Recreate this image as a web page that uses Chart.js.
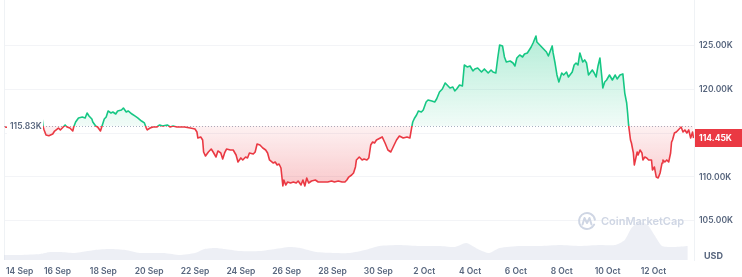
<!DOCTYPE html>
<html><head><meta charset="utf-8">
<script src="https://cdn.jsdelivr.net/npm/chart.js@4.4.1/dist/chart.umd.min.js"></script>
<style>html,body{margin:0;padding:0;background:#fff;overflow:hidden}canvas{display:block}</style>
</head><body>
<canvas id="c" width="742" height="277"></canvas>
<script>
// hours since 14 Sep 00:00
const hours = [-7,0,9,17,26,32,33,34,36,39,43,45,49,51,54,56,58,61,64,65,67,70,74,77,79,81,84,85,88,90,93,95,97,99,101,104,106,109,111,115,117,120,122,126,129,132,136,139,141,142,145,148,152,155,158,163,166,169,173,176,181,187,192,194,195,198,200,201,203,206,209,211,214,216,219,221,223,225,229,232,235,237,240,242,245,247,249,253,255,257,260,263,266,268,270,274,276,278,280,282,283,284,285,287,289,292,295,298,300,303,305,307,309,311,314,318,321,325,328,331,335,338,342,346,349,351,353,356,358,360,361,364,367,369,372,374,376,378,380,382,384,388,391,394,397,400,403,406,410,414,417,419,420,422,424,426,429,431,434,436,440,443,445,448,451,454,456,459,462,464,466,469,472,474,477,480,483,485,488,492,495,499,502,504,507,509,511,514,516,518,522,525,527,529,532,535,537,540,544,546,549,550,553,556,558,560,562,566,567,569,571,573,576,578,581,583,587,589,591,593,595,598,600,602,604,608,610,612,614,616,618,619,621,623,626,629,632,634,637,640,642,644,645,646,648,649,650,651,652,655,656,658,660,661,663,665,667,670,671,673,675,677,679,681,682,684,686,688,690,691,692,694,696,698,700,701,703,705,707,709,711,713,714];
// price in thousands USD
const prices = [115.71,115.59,115.71,115.48,115.82,116.62,115.71,115.37,114.79,114.71,114.91,115.25,115.59,115.37,115.71,115.94,115.71,115.59,115.25,115.71,116.28,116.74,116.85,116.74,117.31,116.97,116.62,116.28,115.82,115.71,115.25,115.94,116.62,116.85,117.54,117.31,117.42,117.19,117.54,117.65,117.88,117.42,117.54,117.19,116.97,116.74,116.39,116.17,115.59,115.37,115.59,115.71,115.71,115.94,115.82,115.94,115.71,115.82,115.71,115.71,115.71,115.59,115.48,115.14,114.45,114.57,114.22,112.85,112.39,112.85,113.19,112.85,112.28,112.97,112.74,112.05,112.74,113.19,113.08,113.08,112.51,111.71,112.17,111.94,112.28,112.17,112.74,112.62,112.85,113.77,113.65,113.31,113.08,112.74,111.94,111.59,111.71,111.37,111.48,111.02,109.99,108.97,109.65,109.08,109.42,109.31,109.42,109.31,109.54,109.08,109.65,108.97,109.88,109.31,109.54,109.65,109.42,109.42,109.42,109.42,109.54,109.42,109.54,109.42,109.42,109.65,109.99,110.22,110.45,111.14,111.94,112.28,111.94,112.05,111.94,112.17,113.65,113.99,113.88,114.22,114.34,114.57,113.88,113.08,112.85,113.54,114.22,114.68,114.45,114.57,114.45,115.71,116.28,116.74,117.08,117.54,117.42,117.65,118.57,118.79,118.68,118.57,118.91,119.71,120.05,120.74,120.51,120.17,120.28,119.82,120.05,120.51,120.39,122.79,122.57,122.68,122.11,122.34,122.45,121.99,122.34,121.88,122.22,121.99,121.88,123.59,125.08,124.97,123.71,123.14,123.25,123.02,122.68,123.59,123.94,123.71,124.05,124.17,124.85,125.31,126.11,125.42,125.08,124.74,124.51,124.28,123.82,124.97,124.17,123.02,121.65,120.85,121.88,121.65,121.99,121.42,121.99,122.79,123.02,122.79,124.17,123.14,123.37,123.02,121.65,122.22,121.88,121.42,122.68,123.59,121.42,120.17,120.85,121.08,121.65,121.08,121.65,121.19,121.65,121.77,119.59,118.45,117.31,115.94,114.22,113.88,113.31,112.74,111.37,112.85,112.51,113.08,112.74,111.94,112.28,112.17,111.94,111.94,110.79,111.14,109.99,109.88,110.45,111.59,111.94,111.71,111.94,111.71,112.74,113.99,114.22,115.02,115.14,115.37,115.59,115.71,115.14,115.37,115.02,115.37,114.45,115.14,114.45];
// volume (billions USD)
const volHours = [-8,9,30,40,51,66,87,103,119,134,160,176,192,202,213,223,239,260,276,291,302,319,338,354,370,385,406,427,448,464,476,490,500,511,532,553,574,595,616,632,642,649,657,666,673,681,694,708];
const volumes = [10,10,12,16,16,14,20,22,20,14,14,10,14,22,24,22,18,18,22,26,24,16,14,14,20,28,30,28,28,26,34,20,14,24,28,28,30,28,30,30,40,64,76,70,50,28,26,28];
const tickHours = [0,48,96,144,192,240,288,336,384,432,480,528,576,624,672];
const tickLabels = ['14 Sep','16 Sep','18 Sep','20 Sep','22 Sep','24 Sep','26 Sep','28 Sep','30 Sep','2 Oct','4 Oct','6 Oct','8 Oct','10 Oct','12 Oct'];
const yTicks = [105,110,115,120,125];
const basePrice = 115.83;
const lastPrice = 114.45;

const GREEN = '#16c784', RED = '#ea3943', GREY = '#58667e';
const FONT = 'Inter, "Noto Sans", sans-serif';

let gradCache = null;
function grads(chart) {
  const area = chart.chartArea, y = chart.scales.y;
  if (!area || !y) return null;
  const key = area.top + ',' + area.bottom;
  if (gradCache && gradCache.key === key) return gradCache;
  const ctx = chart.ctx;
  const b = y.getPixelForValue(basePrice);
  const hi = y.getPixelForValue(Math.max(...prices));
  const lo = y.getPixelForValue(Math.min(...prices));
  const above = ctx.createLinearGradient(0, hi, 0, b);
  above.addColorStop(0, 'rgba(22,199,132,0.32)');
  above.addColorStop(1, 'rgba(22,199,132,0.06)');
  const below = ctx.createLinearGradient(0, b, 0, lo);
  below.addColorStop(0, 'rgba(234,57,67,0.07)');
  below.addColorStop(1, 'rgba(234,57,67,0.27)');
  const line = ctx.createLinearGradient(0, area.top, 0, area.bottom);
  const t = Math.min(1, Math.max(0, (b - area.top) / (area.bottom - area.top)));
  line.addColorStop(0, GREEN); line.addColorStop(t, GREEN);
  line.addColorStop(t, RED); line.addColorStop(1, RED);
  gradCache = {key, above, below, line};
  return gradCache;
}

const decor = {
  id: 'decor',
  beforeDatasetsDraw(chart) {
    const {ctx, chartArea: a, scales: {y}} = chart;
    const by = Math.round(y.getPixelForValue(basePrice)) + 0.5;
    ctx.save();
    ctx.strokeStyle = '#eff2f5'; ctx.lineWidth = 1;
    ctx.beginPath(); ctx.moveTo(a.left + 0.5, a.top); ctx.lineTo(a.left + 0.5, a.bottom); ctx.stroke();
    ctx.strokeStyle = '#a7b1c2'; ctx.setLineDash([1, 2]);
    ctx.beginPath(); ctx.moveTo(a.left, by); ctx.lineTo(a.right, by); ctx.stroke();
    ctx.restore();
  },
  afterDatasetsDraw(chart) {
    const {ctx, chartArea: a, scales: {x, y}} = chart;
    ctx.save();
    // watermark
    ctx.strokeStyle = '#cfd6e4'; ctx.lineWidth = 2; ctx.lineCap = 'round'; ctx.lineJoin = 'round';
    ctx.beginPath(); ctx.arc(587, 221, 8, 0.15 * Math.PI, 1.95 * Math.PI); ctx.stroke();
    ctx.beginPath(); ctx.moveTo(582.5, 224.5); ctx.lineTo(584.5, 218); ctx.lineTo(587, 223); ctx.lineTo(589.5, 218); ctx.lineTo(591.5, 224.5); ctx.stroke();
    ctx.fillStyle = '#cfd6e4'; ctx.font = '600 11px ' + FONT; ctx.textBaseline = 'middle'; ctx.textAlign = 'left';
    ctx.fillText('CoinMarketCap', 601, 222);
    // left baseline label
    const by = y.getPixelForValue(basePrice);
    ctx.fillStyle = '#ffffff'; ctx.fillRect(a.left + 3, by - 8, 36, 16);
    ctx.fillStyle = GREY; ctx.font = '600 8.5px ' + FONT;
    ctx.fillText(basePrice.toFixed(2) + 'K', a.left + 6, by + 0.5);
    ctx.restore();
  },
  afterDraw(chart) {
    const {ctx, chartArea: a, scales: {x, y}} = chart;
    ctx.save();
    // current price box
    const py = y.getPixelForValue(lastPrice);
    ctx.fillStyle = RED; ctx.fillRect(a.right + 1, Math.round(py) - 9, 742 - a.right, 18);
    ctx.fillStyle = '#ffffff'; ctx.font = '700 8.5px ' + FONT; ctx.textBaseline = 'middle'; ctx.textAlign = 'left';
    ctx.fillText(lastPrice.toFixed(2) + 'K', a.right + 5, Math.round(py) + 0.5);
    // USD
    ctx.fillStyle = GREY; ctx.font = '700 9px ' + FONT;
    ctx.fillText('USD', a.right + 10, 256);
    // x labels
    ctx.font = '600 8.5px ' + FONT; ctx.fillStyle = GREY;
    tickHours.forEach((h, i) => {
      const px = x.getPixelForValue(h);
      const w = ctx.measureText(tickLabels[i]).width;
      let left = px - w / 2;
      if (left < 6) left = 6;
      ctx.fillText(tickLabels[i], left, 271);
    });
    ctx.restore();
  }
};

new Chart(document.getElementById('c'), {
  type: 'line',
  data: {
    datasets: [{
      data: hours.map((h, i) => ({x: h, y: prices[i]})),
      yAxisID: 'y',
      order: 0,
      borderWidth: 1.6,
      borderJoinStyle: 'round',
      pointRadius: 0,
      tension: 0,
      borderColor: (c) => { const g = grads(c.chart); return g ? g.line : GREEN; },
      fill: {
        target: {value: basePrice},
        above: (c) => { const g = grads(c.chart); return g ? g.above : 'rgba(22,199,132,0.15)'; },
        below: (c) => { const g = grads(c.chart); return g ? g.below : 'rgba(234,57,67,0.15)'; }
      }
    }, {
      data: volHours.map((h, i) => ({x: h, y: volumes[i]})),
      yAxisID: 'y2',
      order: 1,
      borderWidth: 0,
      pointRadius: 0,
      tension: 0.2,
      backgroundColor: 'rgba(207,214,228,0.38)',
      fill: 'origin'
    }]
  },
  options: {
    responsive: false,
    animation: false,
    devicePixelRatio: 1,
    layout: {padding: {left: 4, right: 0, top: 0, bottom: 17}},
    plugins: {legend: {display: false}, tooltip: {enabled: false}},
    scales: {
      x: {type: 'linear', display: false, min: -8, max: 714.5},
      y: {
        position: 'right', min: 100.51, max: 130.22,
        afterBuildTicks: (s) => { s.ticks = yTicks.map(v => ({value: v})); },
        afterFit: (s) => { s.width = 48; s.paddingTop = 0; s.paddingBottom = 0; },
        grid: {color: '#f3f4f7', drawTicks: false},
        border: {display: true, color: '#eff2f5'},
        ticks: {
          padding: 5, crossAlign: 'near', color: GREY,
          font: {family: FONT, size: 8.5, weight: '600'},
          callback: (v) => Number(v).toFixed(2) + 'K'
        }
      },
      y2: {display: false, min: 0, max: 520}
    }
  },
  plugins: [decor]
});
</script>
</body></html>
